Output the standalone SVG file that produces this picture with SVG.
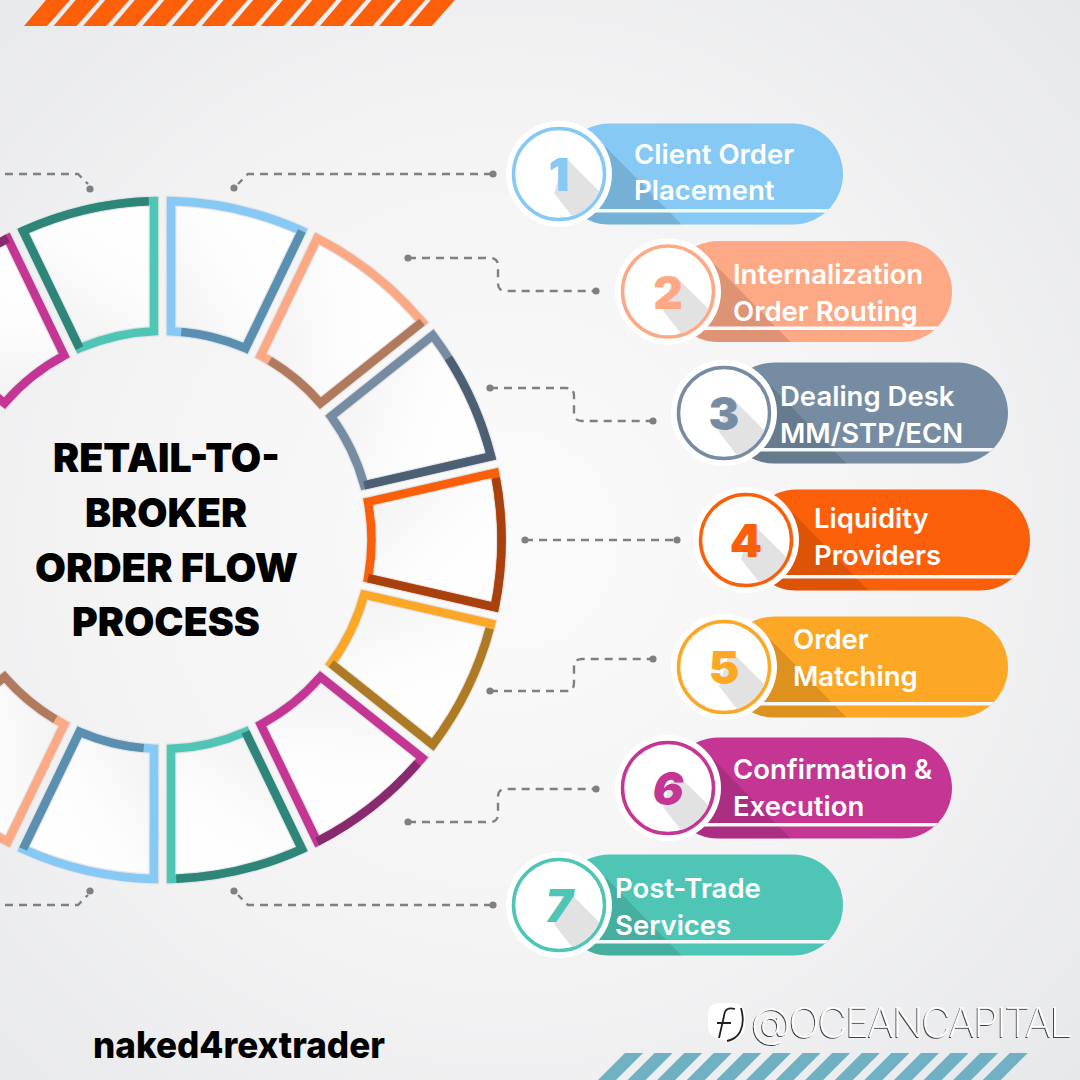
<svg xmlns="http://www.w3.org/2000/svg" width="1080" height="1080" viewBox="0 0 1080 1080">
<defs>
<radialGradient id="bg" cx="0.47" cy="0.5" r="0.72"><stop offset="0" stop-color="#fbfbfb"/><stop offset="0.55" stop-color="#f3f3f4"/><stop offset="1" stop-color="#e7e8ea"/></radialGradient>
<linearGradient id="cell" x1="0" y1="0" x2="1" y2="1"><stop offset="0" stop-color="#f0f0f1"/><stop offset="0.55" stop-color="#fdfdfd"/><stop offset="1" stop-color="#ffffff"/></linearGradient>
<path id="seg" d="M205.48,-38.2 L332.29,-67.12 A339,339 0 0 1 332.29,67.12 L205.48,38.2 A209,209 0 0 0 205.48,-38.2Z"/>
<path id="dark-ei" d="M332.29,67.12 L205.48,38.2 A209,209 0 0 0 207.1,-28"/>
<path id="dark-oe" d="M336.6,-40 A339,339 0 0 1 332.29,67.12 L205.48,38.2"/>
<path id="dark-oe-full" d="M333.3,-62 A339,339 0 0 1 332.29,67.12 L205.48,38.2"/>
<path id="dark-so" d="M205.48,-38.2 L332.29,-67.12 A339,339 0 0 1 333.3,62"/>
<path id="dark-o" d="M333.6,-60 A339,339 0 0 1 332.29,67.12"/>
<use id="seg-base" href="#seg" fill="url(#cell)" stroke="#e3e4e6" stroke-width="11"/>
<polygon id="stripe-o" points="24,26 47,26 70,0 46,0"/>
<polygon id="stripe-b" points="625,1053 643,1053 616,1080 598,1080"/>
<clipPath id="pill-clip"><rect x="0" y="-50.5" width="284" height="101" rx="50.5"/></clipPath>
<clipPath id="disc-clip"><circle r="44"/></clipPath>
<rect id="pill" x="0" y="-50.5" width="284" height="101" rx="50.5"/>
<g id="pill-fx"><g clip-path="url(#pill-clip)"><polygon points="47,-27 124,52 10,52 10,-27" fill="#000" opacity="0.12"/><rect x="30" y="35" width="260" height="3.5" fill="#f4fafd"/></g></g>
<g id="disc"><circle r="53" fill="#fff"/><circle r="45.5" fill="#fff" stroke-width="3.5" stroke="currentColor"/><g clip-path="url(#disc-clip)"><polygon points="6,-17 70,47 40,77 -5,19" fill="#e2e2e3"/></g></g>
<circle id="dot" r="3.6" fill="#7f8083"/>
<filter id="wm" x="-5%" y="-20%" width="110%" height="140%"><feDropShadow dx="-1" dy="1" stdDeviation="0.3" flood-color="#333" flood-opacity="0.9"/></filter>
</defs>
<style>
.frame{fill:none;stroke-width:8.5;stroke-linejoin:miter}
.lbl{font-family:Inter,"Liberation Sans",sans-serif;font-weight:600;font-size:27.5px;fill:#fff}
.num{font-family:Inter,"Liberation Sans",sans-serif;font-weight:900;font-size:46px;text-anchor:middle}
.ttl{font-family:Inter,"Liberation Sans",sans-serif;font-weight:900;font-size:40px;fill:#000}
.conn{fill:none;stroke:#7f8083;stroke-width:2.4;stroke-dasharray:8 6}
</style>
<rect width="1080" height="1080" fill="url(#bg)"/>
<g id="stripes-top" fill="#fc5f0a">
<use href="#stripe-o"/><use href="#stripe-o" x="29.6"/><use href="#stripe-o" x="59.2"/><use href="#stripe-o" x="88.8"/><use href="#stripe-o" x="118.4"/><use href="#stripe-o" x="148"/><use href="#stripe-o" x="177.6"/><use href="#stripe-o" x="207.2"/><use href="#stripe-o" x="236.8"/><use href="#stripe-o" x="266.4"/><use href="#stripe-o" x="296"/><use href="#stripe-o" x="325.6"/><use href="#stripe-o" x="355.2"/><use href="#stripe-o" x="384.8"/>
</g>
<g id="stripes-bottom" fill="#6fb0c3">
<use href="#stripe-b"/><use href="#stripe-b" x="29.6"/><use href="#stripe-b" x="59.2"/><use href="#stripe-b" x="88.8"/><use href="#stripe-b" x="118.4"/><use href="#stripe-b" x="148"/><use href="#stripe-b" x="177.6"/><use href="#stripe-b" x="207.2"/><use href="#stripe-b" x="236.8"/><use href="#stripe-b" x="266.4"/><use href="#stripe-b" x="296"/><use href="#stripe-b" x="325.6"/><use href="#stripe-b" x="355.2"/><use href="#stripe-b" x="384.8"/>
</g>
<g id="connectors">
<path class="conn" d="M5,174 H78 L88,184"/><use href="#dot" x="90" y="189"/>
<path class="conn" d="M492,174 H248 L238,184"/><use href="#dot" x="234" y="188"/><use href="#dot" x="493" y="174"/>
<path class="conn" d="M408,258 H490 Q498,258 498,266 V283 Q498,291 506,291 H595"/><use href="#dot" x="408" y="258"/><use href="#dot" x="596" y="291"/>
<path class="conn" d="M490,388 H566 Q574,388 574,396 V413 Q574,421 582,421 H652"/><use href="#dot" x="490" y="388"/><use href="#dot" x="653" y="421"/>
<path class="conn" d="M525,540 H677"/><use href="#dot" x="525" y="540"/><use href="#dot" x="677" y="540"/>
<path class="conn" d="M490,691 H566 Q574,691 574,683 V667 Q574,659 582,659 H652"/><use href="#dot" x="490" y="691"/><use href="#dot" x="653" y="659"/>
<path class="conn" d="M408,822 H490 Q498,822 498,814 V797 Q498,789 506,789 H595"/><use href="#dot" x="408" y="822"/><use href="#dot" x="596" y="789"/>
<path class="conn" d="M492,905 H248 L238,895"/><use href="#dot" x="234" y="891"/><use href="#dot" x="493" y="905"/>
<path class="conn" d="M5,905 H78 L88,895"/><use href="#dot" x="90" y="891"/>
</g>
<g id="ring-right" transform="translate(162.5 540)">
<g id="ring-1" transform="rotate(-77.14)"><use href="#seg-base"/><use href="#seg" class="frame" stroke="#86c9f5"/><use href="#dark-ei" class="frame" stroke="#5a8fb0"/></g>
<g id="ring-2" transform="rotate(-51.43)"><use href="#seg-base"/><use href="#seg" class="frame" stroke="#fda985"/><use href="#dark-ei" class="frame" stroke="#b07a5f"/></g>
<g id="ring-3" transform="rotate(-25.71)"><use href="#seg-base"/><use href="#seg" class="frame" stroke="#768ca3"/><use href="#dark-oe" class="frame" stroke="#4d6073"/></g>
<g id="ring-4"><use href="#seg-base"/><use href="#seg" class="frame" stroke="#fc5f0a"/><use href="#dark-oe-full" class="frame" stroke="#a8410e"/></g>
<g id="ring-5" transform="rotate(25.71)"><use href="#seg-base"/><use href="#seg" class="frame" stroke="#fca725"/><use href="#dark-oe-full" class="frame" stroke="#ad7a25"/></g>
<g id="ring-6" transform="rotate(51.43)"><use href="#seg-base"/><use href="#seg" class="frame" stroke="#c43594"/><use href="#dark-o" class="frame" stroke="#8a2a6e"/></g>
<g id="ring-7" transform="rotate(77.14)"><use href="#seg-base"/><use href="#seg" class="frame" stroke="#4fc6b5"/><use href="#dark-so" class="frame" stroke="#2f8577"/></g>
</g>
<g id="ring-left" transform="translate(162.5 540) rotate(180)">
<g id="ring-8" transform="rotate(-77.14)"><use href="#seg-base"/><use href="#seg" class="frame" stroke="#86c9f5"/><use href="#dark-ei" class="frame" stroke="#5a8fb0"/></g>
<g id="ring-9" transform="rotate(-51.43)"><use href="#seg-base"/><use href="#seg" class="frame" stroke="#fda985"/><use href="#dark-ei" class="frame" stroke="#b07a5f"/></g>
<g id="ring-13" transform="rotate(51.43)"><use href="#seg-base"/><use href="#seg" class="frame" stroke="#c43594"/><use href="#dark-o" class="frame" stroke="#8a2a6e"/></g>
<g id="ring-14" transform="rotate(77.14)"><use href="#seg-base"/><use href="#seg" class="frame" stroke="#4fc6b5"/><use href="#dark-so" class="frame" stroke="#2f8577"/></g>
</g>
<g id="title">
<text class="ttl" x="53" y="472" textLength="227" lengthAdjust="spacingAndGlyphs">RETAIL-TO-</text>
<text class="ttl" x="85" y="527" textLength="162" lengthAdjust="spacingAndGlyphs">BROKER</text>
<text class="ttl" x="35" y="582" textLength="263" lengthAdjust="spacingAndGlyphs">ORDER FLOW</text>
<text class="ttl" x="72" y="636" textLength="188" lengthAdjust="spacingAndGlyphs">PROCESS</text>
</g>
<g id="step-1" transform="translate(559 174)" color="#86c9f5"><use href="#pill" fill="#86c9f5"/><use href="#pill-fx"/><use href="#disc"/><text class="num" y="17" fill="#86c9f5">1</text><text class="lbl" x="75" y="-10">Client Order</text><text class="lbl" x="75" y="26">Placement</text></g>
<g id="step-2" transform="translate(668 291.5)" color="#fda985"><use href="#pill" fill="#fda985"/><use href="#pill-fx"/><use href="#disc"/><text class="num" y="17" fill="#fda985">2</text><text class="lbl" x="65" y="-8">Internalization</text><text class="lbl" x="65" y="29">Order Routing</text></g>
<g id="step-3" transform="translate(724 413)" color="#768ca3"><use href="#pill" fill="#768ca3"/><use href="#pill-fx"/><use href="#disc"/><text class="num" y="17" fill="#768ca3">3</text><text class="lbl" x="56" y="-7">Dealing Desk</text><text class="lbl" x="56" y="30">MM/STP/ECN</text></g>
<g id="step-4" transform="translate(746 540)" color="#fc5f0a"><use href="#pill" fill="#fc5f0a"/><use href="#pill-fx"/><use href="#disc"/><text class="num" y="17" fill="#fc5f0a">4</text><text class="lbl" x="68" y="-12">Liquidity</text><text class="lbl" x="68" y="25">Providers</text></g>
<g id="step-5" transform="translate(724 667)" color="#fca725"><use href="#pill" fill="#fca725"/><use href="#pill-fx"/><use href="#disc"/><text class="num" y="17" fill="#fca725">5</text><text class="lbl" x="69" y="-18">Order</text><text class="lbl" x="69" y="19">Matching</text></g>
<g id="step-6" transform="translate(668 788)" color="#c43594"><use href="#pill" fill="#c43594"/><use href="#pill-fx"/><use href="#disc"/><text class="num" y="17" fill="#c43594" font-style="italic">6</text><text class="lbl" x="65" y="-9">Confirmation &amp;</text><text class="lbl" x="65" y="28">Execution</text></g>
<g id="step-7" transform="translate(559 905)" color="#4fc6b5"><use href="#pill" fill="#4fc6b5"/><use href="#pill-fx"/><use href="#disc"/><text class="num" y="17" fill="#4fc6b5" font-style="italic">7</text><text class="lbl" x="56" y="-7">Post-Trade</text><text class="lbl" x="56" y="30">Services</text></g>
<text id="brand" x="93" y="1058" font-family="Inter,'Liberation Sans',sans-serif" font-weight="800" font-size="37" fill="#000" textLength="292" lengthAdjust="spacingAndGlyphs">naked4rextrader</text>
<g id="watermark">
<path d="M720,1003 H732 Q745,1003 745,1016 V1026 Q745,1039 730,1040 Q724,1045 726,1040 Q708,1039 708,1026 V1015 Q708,1003 720,1003Z" fill="#fff"/>
<path d="M735,1009 Q725,1006 724,1016 L719,1038 M717,1023 H731 M741,1008 Q745,1022 740,1032 Q736,1039 727,1041" fill="none" stroke="#222" stroke-width="1.8"/>
<text x="751" y="1037" font-family="Inter,'Liberation Sans',sans-serif" font-weight="200" font-size="41" letter-spacing="-2.1" fill="#fff" filter="url(#wm)">@OCEANCAPITAL</text>
</g>
</svg>
